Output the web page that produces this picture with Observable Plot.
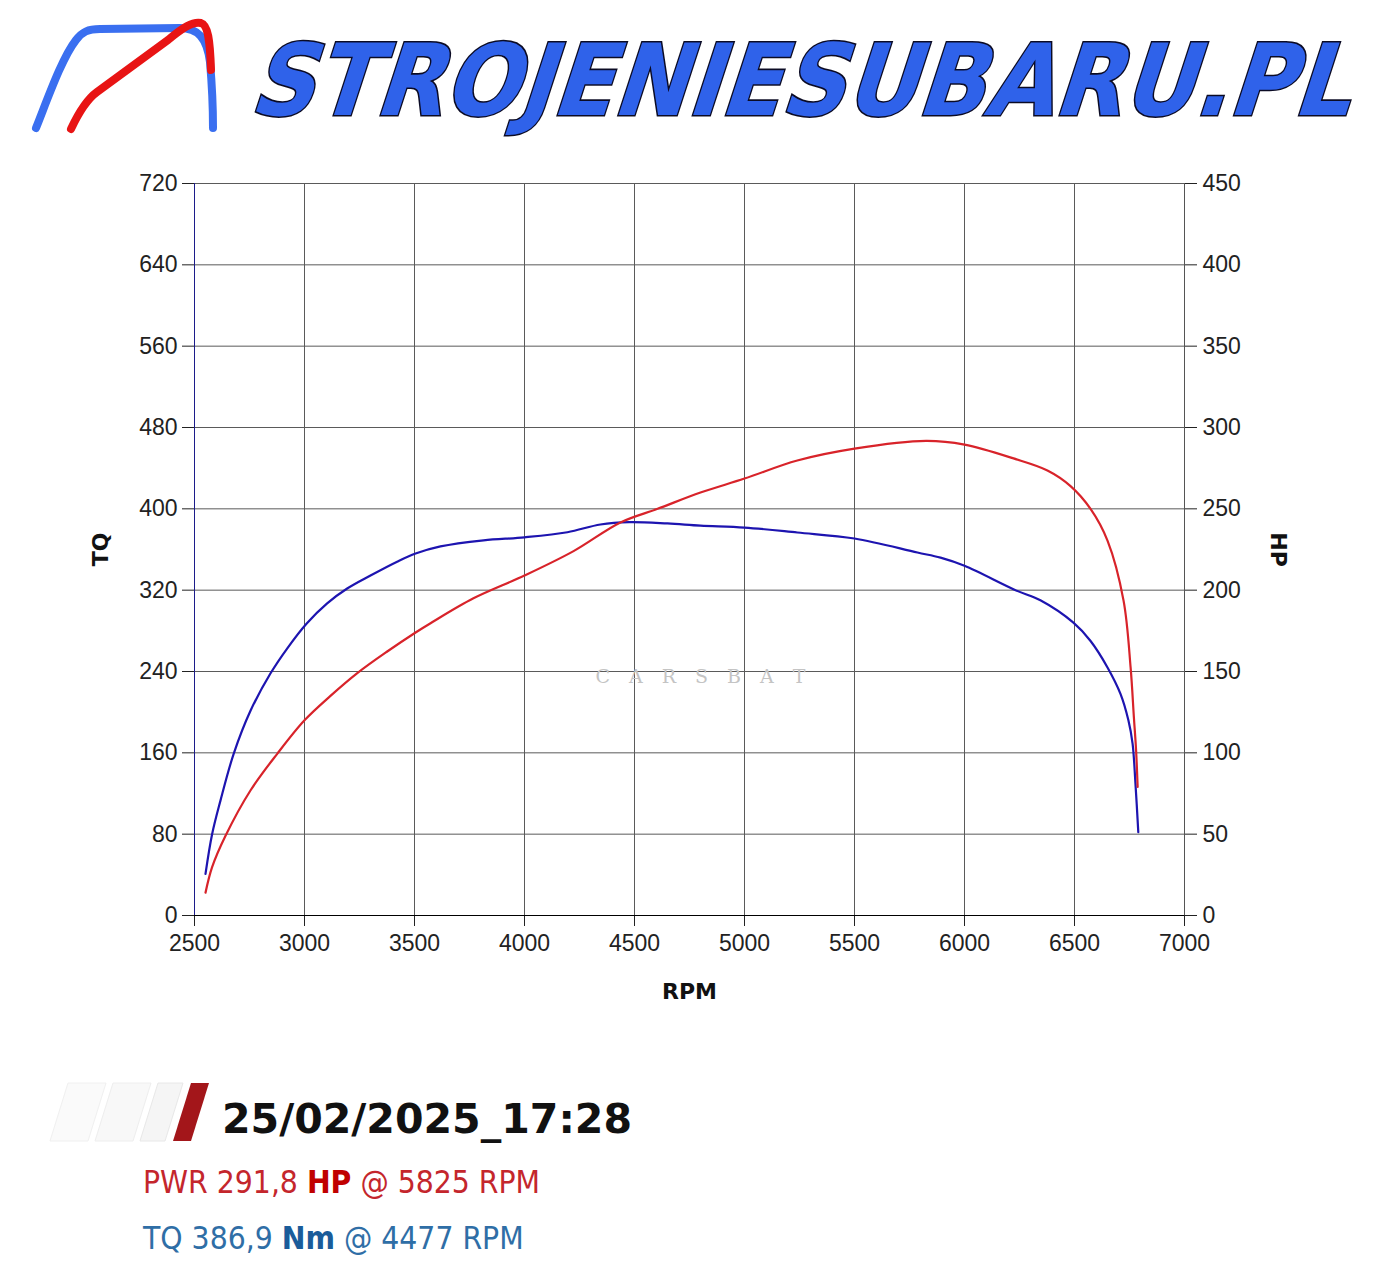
<!DOCTYPE html>
<html>
<head>
<meta charset="utf-8">
<script src="https://cdn.jsdelivr.net/npm/d3@7"></script>
<script src="https://cdn.jsdelivr.net/npm/@observablehq/plot@0.6"></script>
<style>
  html, body { margin: 0; padding: 0; background: #fff; }
  #page { width: 1400px; position: relative; }
  svg { display: block; }
</style>
</head>
<body>
<div id="page">
  <svg id="header" width="1400" height="150" viewBox="0 0 1400 150">
    <path d="M36,128 C48,98 62,58 76,40 C82,32 88,29 100,29 L180,28 C198,28 207,38 210,62 C212,85 213,110 213,128" fill="none" stroke="#3a6ff0" stroke-width="8" stroke-linecap="round" stroke-linejoin="round"/>
    <path d="M71,129 C78,114 86,100 97,92 L168,40 C182,28 193,21 201,23 C208,25 210,40 211,70" fill="none" stroke="#e81414" stroke-width="8" stroke-linecap="round" stroke-linejoin="round"/>
    <g transform="translate(248,115) skewX(-18) scale(1,1.17)">
      <text x="0" y="0" font-family="DejaVu Sans" font-weight="bold" font-size="85" textLength="1100" lengthAdjust="spacingAndGlyphs" fill="#2f62ea" stroke="#0b0b24" stroke-width="2.6" paint-order="stroke">STROJENIESUBARU.PL</text>
    </g>
  </svg>
  <div id="chart"></div>
  <svg id="footer" width="1400" height="237" viewBox="0 0 1400 237">
    <polygon points="68,33 106,33 88,91 50,91" fill="#fafafa" stroke="#f0f0f0"/>
    <polygon points="113,33 151,33 133,91 95,91" fill="#f8f8f8" stroke="#eeeeee"/>
    <polygon points="158,33 183,33 165,91 140,91" fill="#f5f5f5" stroke="#e8e8e8"/>
    <polygon points="191,33 209,33 191,91 173,91" fill="#a3161a"/>
    <text x="222" y="83" font-family="DejaVu Sans" font-weight="bold" font-size="41" fill="#111" textLength="410" lengthAdjust="spacingAndGlyphs">25/02/2025_17:28</text>
    <text x="143" y="143" font-family="'DejaVu Sans Condensed', 'DejaVu Sans'" font-stretch="condensed" font-size="31.5" fill="#c4262c">PWR 291,8 <tspan font-weight="bold" fill="#c00000">HP</tspan> @ 5825 RPM</text>
    <text x="143" y="199" font-family="'DejaVu Sans Condensed', 'DejaVu Sans'" font-stretch="condensed" font-size="31.5" fill="#2f6ea6">TQ 386,9 <tspan font-weight="bold" fill="#1a5c9a">Nm</tspan> @ 4477 RPM</text>
  </svg>
</div>
<script>
// ---- data ----
const tqRpm = [2550,2580,2618,2678,2755,2845,2921,3009,3103,3194,3300,3421,3505,3618,3814,4000,4195,4345,4477,4650,4800,5000,5240,5500,5786,5891,6000,6232,6345,6495,6573,6650,6709,6745,6764,6777,6790];
const tqNm  = [41,80,113,159,201.6,238,262.6,287,307,321.6,334.4,348,356,363,369,372,377,384.6,386.9,385.6,383.5,381.6,376.7,370.8,357,352,344,320,310,288,270,244,218,192,169,130,82];

const hpRpm = [2550,2580,2641,2755,2876,3000,3118,3240,3376,3505,3573,3768,4000,4223,4436,4605,4800,5000,5240,5500,5825,6000,6223,6377,6482,6573,6650,6723,6755,6770,6780,6787];
const hpVal = [14,29.7,49,77,99.4,120,135,149,162.3,174,179.7,195,209,224,241.6,250,260,268.6,279.7,287,291.8,289.5,281,273.6,264,250,230.5,193.6,152.5,121.7,101.4,79];

const rpmTicks = [2500,3000,3500,4000,4500,5000,5500,6000,6500,7000];
const tqTicks  = [0,80,160,240,320,400,480,560,640,720];
const hpTicks  = [0,50,100,150,200,250,300,350,400,450];

// ---- tables ----
const tqData = tqRpm.map((r, i) => ({rpm: r, tq: tqNm[i]}));
const hpData = hpRpm.map((r, i) => ({rpm: r, hp: hpVal[i]}));
const hpToTq = 720 / 450; // right axis mapped onto left scale

const chart = Plot.plot({
  width: 1400,
  height: 900,
  marginLeft: 194,
  marginRight: 216,
  marginTop: 33,
  marginBottom: 135,
  x: {domain: [2500, 7000]},
  y: {domain: [0, 720]},
  style: {fontFamily: "'Liberation Sans', Arial, sans-serif", fontSize: "23px", color: "#222", background: "#fff", overflow: "visible"},
  marks: [
    Plot.gridX(rpmTicks, {stroke: "#5a5a5a", strokeOpacity: 1}),
    Plot.gridY(tqTicks, {stroke: "#5a5a5a", strokeOpacity: 1}),
    Plot.axisX(rpmTicks, {tickSize: 11, tickPadding: 8, tickFormat: "d", label: null}),
    Plot.axisY(tqTicks, {tickSize: 12, tickPadding: 5, tickFormat: "d", label: null}),
    Plot.axisY(tqTicks, {anchor: "right", tickSize: 12, tickPadding: 6, tickFormat: (d, i) => String(hpTicks[i]), label: null}),
    Plot.ruleX([2500], {stroke: "#1c1c8a"}),
    Plot.ruleX([7000], {stroke: "#555"}),
    Plot.ruleY([0], {stroke: "#000"}),
    Plot.text(["C\u2002\u2002A\u2002\u2002R\u2002\u2002S\u2002\u2002B\u2002\u2002A\u2002\u2002T"], {frameAnchor: "middle", dx: 11, dy: 127, text: d => d, fontFamily: "'DejaVu Serif', serif", fontSize: 19, fill: "#c4c4c4", textAnchor: "middle", lineAnchor: "middle"}),
    Plot.line(tqData, {x: "rpm", y: "tq", stroke: "#1d14b0", strokeWidth: 2.2, curve: "catmull-rom"}),
    Plot.line(hpData, {x: "rpm", y: d => d.hp * hpToTq, stroke: "#d8232a", strokeWidth: 2.2, curve: "catmull-rom"}),
    Plot.text(["TQ"], {frameAnchor: "left", dx: -94, text: d => d, rotate: -90, fontFamily: "'DejaVu Sans', sans-serif", fontWeight: "bold", fontSize: 22, fill: "#111", textAnchor: "middle", lineAnchor: "middle"}),
    Plot.text(["HP"], {frameAnchor: "right", dx: 94, text: d => d, rotate: 90, fontFamily: "'DejaVu Sans', sans-serif", fontWeight: "bold", fontSize: 22, fill: "#111", textAnchor: "middle", lineAnchor: "middle"}),
    Plot.text(["RPM"], {frameAnchor: "bottom", dy: 76, text: d => d, fontFamily: "'DejaVu Sans', sans-serif", fontWeight: "bold", fontSize: 22, fill: "#111", textAnchor: "middle", lineAnchor: "middle"})
  ]
});
document.getElementById("chart").appendChild(chart);
</script>
</body>
</html>
